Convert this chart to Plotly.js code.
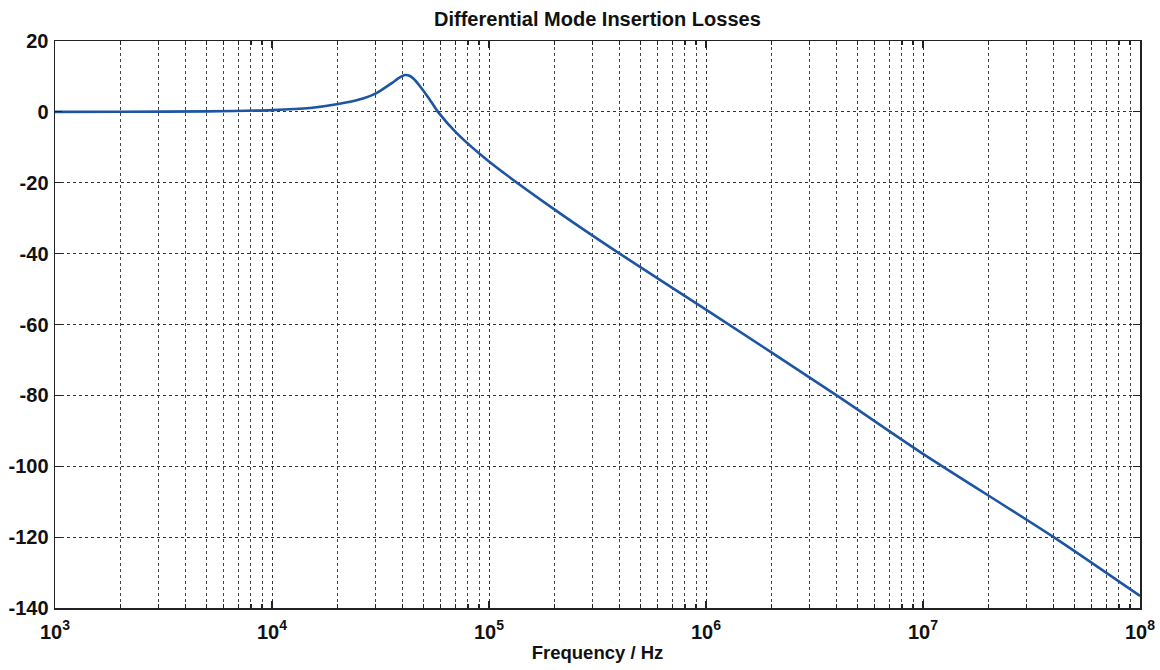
<!DOCTYPE html>
<html>
<head>
<meta charset="utf-8">
<script src="https://cdn.plot.ly/plotly-3.0.1.min.js"></script>
<style>html,body{margin:0;padding:0;background:#fff;}#chart{width:1160px;height:670px;}</style>
</head>
<body>
<div id="chart"></div>
<script>
// Frequency (Hz) and insertion loss (dB)
const freqHz = [1e3, 2e3, 5e3, 1e4, 1.5e4, 2.02e4, 2.5e4, 3.03e4, 3.56e4, 3.85e4, 4.1e4, 4.3e4, 4.48e4, 4.8e4, 5.2e4, 5.53e4, 5.82e4, 7.1e4, 1e5, 2e5, 4e5, 1e6, 4e6, 1e7, 4e7, 1e8];
const lossDb = [0.0, 0.05, 0.15, 0.5, 1.1, 2.2, 3.4, 5.3, 8.1, 9.6, 10.4, 10.2, 9.4, 7.3, 4.4, 2.0, 0.0, -6.0, -14.0, -27.5, -40.0, -55.8, -80.0, -96.5, -120.0, -136.6];

const xTickVals = [1e3, 1e4, 1e5, 1e6, 1e7, 1e8];
const xTickText = ['10<sup>3</sup>', '10<sup>4</sup>', '10<sup>5</sup>', '10<sup>6</sup>', '10<sup>7</sup>', '10<sup>8</sup>'];
const yTickVals = [20, 0, -20, -40, -60, -80, -100, -120, -140];
const xMinorVals = [2e3,3e3,4e3,5e3,6e3,7e3,8e3,9e3, 2e4,3e4,4e4,5e4,6e4,7e4,8e4,9e4, 2e5,3e5,4e5,5e5,6e5,7e5,8e5,9e5, 2e6,3e6,4e6,5e6,6e6,7e6,8e6,9e6, 2e7,3e7,4e7,5e7,6e7,7e7,8e7,9e7];

const fontFam = '"Liberation Sans", Arial, sans-serif';

const trace = {
  x: freqHz, y: lossDb, type: 'scatter', mode: 'lines',
  line: {color: '#1d55a3', width: 2.6, shape: 'spline', smoothing: 0.7},
  hoverinfo: 'x+y'
};

const layout = {
  width: 1160, height: 670,
  margin: {l: 55, r: 20, t: 41, b: 62},
  paper_bgcolor: '#ffffff', plot_bgcolor: '#ffffff',
  showlegend: false,
  title: {text: '<b>Differential Mode Insertion Losses</b>', font: {family: fontFam, size: 20, color: '#111'}, x: 0.515, xanchor: 'center', y: 0.982, yanchor: 'top'},
  xaxis: {
    type: 'log', range: [3, 8], autorange: false,
    tickvals: xTickVals, ticktext: xTickText.map(t => '<b>' + t + '</b>'),
    tickfont: {family: fontFam, size: 20, color: '#111'},
    ticklabelstandoff: 5,
    ticks: 'inside', ticklen: 7, tickwidth: 1.2, tickcolor: '#222',
    showline: true, linecolor: '#222', linewidth: 1.5, mirror: 'allticks',
    showgrid: true, gridcolor: '#333', gridwidth: 1, griddash: 'dot',
    zeroline: false,
    minor: {
      tickvals: xMinorVals,
      ticks: 'inside', ticklen: 4, tickcolor: '#222',
      showgrid: true, gridcolor: '#444', gridwidth: 1, griddash: 'dot'
    },
    title: {text: '<b>Frequency / Hz</b>', font: {family: fontFam, size: 18.5, color: '#111'}, standoff: 4}
  },
  yaxis: {
    range: [-140, 20], autorange: false,
    tickvals: yTickVals,
    ticktext: yTickVals.map(v => '<b>' + v + '</b>'),
    tickfont: {family: fontFam, size: 20, color: '#111'},
    ticklabelstandoff: 1,
    ticks: 'inside', ticklen: 7, tickwidth: 1.2, tickcolor: '#222',
    showline: true, linecolor: '#222', linewidth: 1.5, mirror: 'allticks',
    showgrid: true, gridcolor: '#333', gridwidth: 1, griddash: 'dot',
    zeroline: false
  }
};

Plotly.newPlot('chart', [trace], layout, {displayModeBar: false, staticPlot: true});
</script>
</body>
</html>
